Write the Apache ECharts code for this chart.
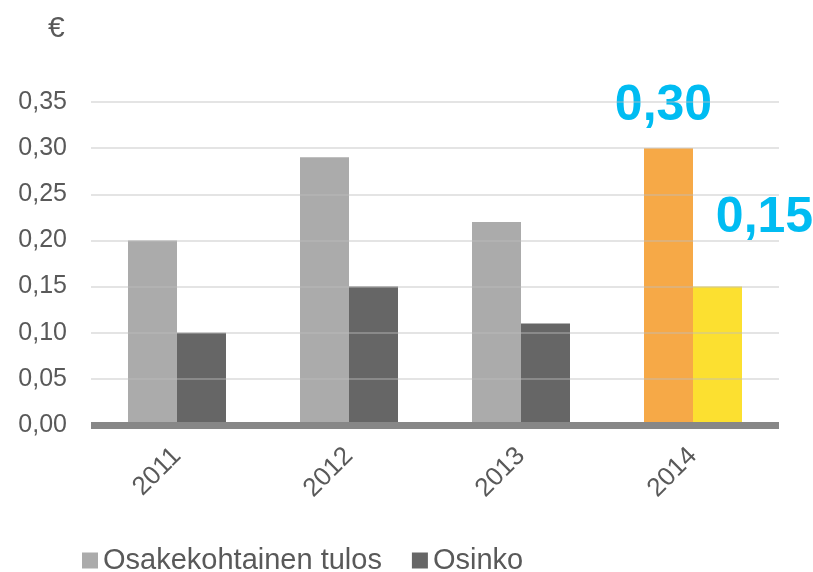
<!DOCTYPE html>
<html><head><meta charset="utf-8">
<script src="https://cdn.jsdelivr.net/npm/echarts@6/dist/echarts.min.js"></script>
<style>html,body{margin:0;padding:0;background:#fff}#c{width:813px;height:572px}</style>
</head><body><div id="c"></div>
<script>
const categories = ['2011', '2012', '2013', '2014'];
const epsValues = [0.20, 0.29, 0.22, 0.30];
const dividendValues = [0.10, 0.15, 0.11, 0.15];
const seriesNames = ['Osakekohtainen tulos', 'Osinko'];
const unitLabel = '€';
const yMin = 0, yMax = 0.35, yStep = 0.05;

const FONT = 'Liberation Sans, Arial, sans-serif';
const fmt = v => v.toFixed(2).replace('.', ',');
const lastIdx = categories.length - 1;

const epsData = epsValues.map((v, i) => i === lastIdx ? {
  value: v,
  itemStyle: { color: '#F6A947' },
  label: { show: true, position: 'top', distance: 0, offset: [-5, -17], formatter: p => fmt(p.value),
    color: '#00BCF2', fontSize: 50, fontWeight: 'bold', fontFamily: FONT, lineHeight: 50 }
} : v);
const divData = dividendValues.map((v, i) => i === lastIdx ? {
  value: v,
  itemStyle: { color: '#FCE030' },
  label: { show: true, position: 'top', distance: 0, offset: [47, -43], formatter: p => fmt(p.value),
    color: '#00BCF2', fontSize: 50, fontWeight: 'bold', fontFamily: FONT, lineHeight: 50 }
} : v);

const chart = echarts.init(document.getElementById('c'), null, { renderer: 'canvas' });
chart.setOption({
  animation: false,
  backgroundColor: '#fff',
  textStyle: { fontFamily: FONT },
  title: { text: unitLabel, left: 43, top: 9, textStyle: { fontSize: 30, fontWeight: 'normal', color: '#595959', fontFamily: FONT } },
  grid: { left: 91, right: 34, top: 102, bottom: 147, containLabel: false },
  legend: {
    left: 77, top: 541, itemWidth: 16, itemHeight: 16, itemGap: 30,
    icon: 'rect',
    textStyle: { fontSize: 29, color: '#595959', fontFamily: FONT },
    data: seriesNames
  },
  xAxis: {
    type: 'category', data: categories, z: 4,
    axisLine: { show: true, onZero: false, lineStyle: { color: '#878787', width: 7, cap: 'butt' } },
    axisTick: { show: false },
    axisLabel: { rotate: 45, margin: 27, fontSize: 26, color: '#595959', fontFamily: FONT }
  },
  yAxis: {
    type: 'value', min: yMin, max: yMax, interval: yStep, z: 3,
    axisLine: { show: false }, axisTick: { show: false },
    axisLabel: { formatter: v => fmt(v), fontSize: 25, color: '#595959', margin: 24, fontFamily: FONT },
    splitLine: { lineStyle: { color: 'rgba(190,190,190,0.55)', width: 1.5 } }
  },
  series: [
    { name: seriesNames[0], type: 'bar', data: epsData, barWidth: 49, barGap: '0%', itemStyle: { color: '#ABABAB' }, z: 2 },
    { name: seriesNames[1], type: 'bar', data: divData, barWidth: 49, barGap: '0%', itemStyle: { color: '#666666' }, z: 2 }
  ]
});
</script></body></html>
